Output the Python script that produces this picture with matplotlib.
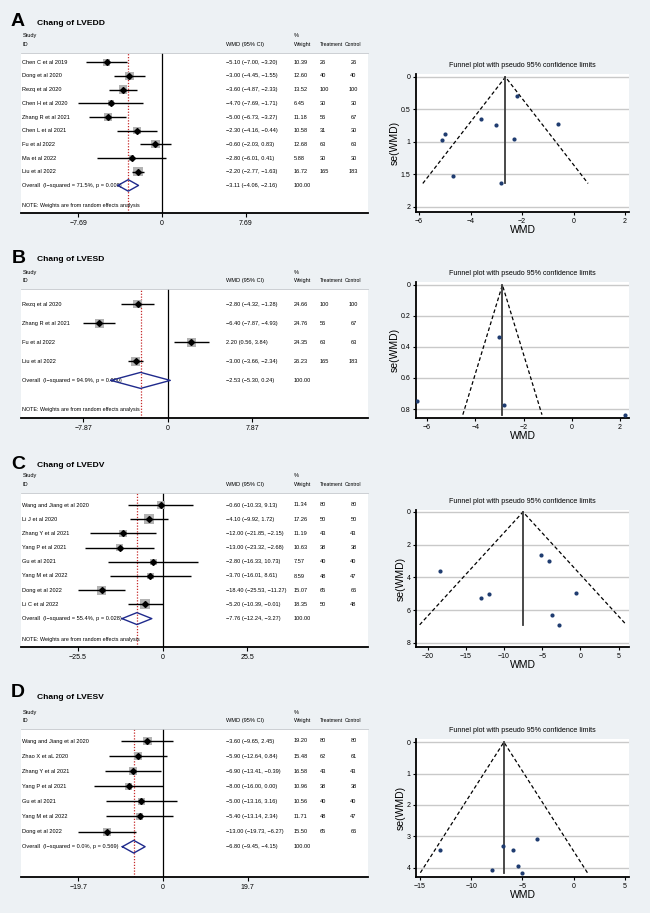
import numpy as np
import matplotlib
matplotlib.use("Agg")
import matplotlib.pyplot as plt
from matplotlib.transforms import blended_transform_factory

plt.rcParams['font.family'] = ['Liberation Sans', 'DejaVu Sans']

# ---------------- data ----------------
# A: LVEDD
studies_a = ["Chen C et al 2019", "Dong et al 2020", "Rezq et al 2020", "Chen H et al 2020",
             "Zhang R et al 2021", "Chen L et al 2021", "Fu et al 2022", "Ma et al 2022", "Liu et al 2022"]
wmd_a = [-5.10, -3.00, -3.60, -4.70, -5.00, -2.30, -0.60, -2.80, -2.20]
lo_a = [-7.00, -4.45, -4.87, -7.69, -6.73, -4.16, -2.03, -6.01, -2.77]
hi_a = [-3.20, -1.55, -2.33, -1.71, -3.27, -0.44, 0.83, 0.41, -1.63]
wt_a = [10.39, 12.60, 13.52, 6.45, 11.18, 10.58, 12.68, 5.88, 16.72]
nt_a = [26, 40, 100, 30, 56, 31, 63, 30, 165]
nc_a = [26, 40, 100, 30, 67, 30, 63, 30, 183]
ov_a = [-3.11, -4.06, -2.16]
het_a = ["71.5%", "0.000"]

# B: LVESD
studies_b = ["Rezq et al 2020", "Zhang R et al 2021", "Fu et al 2022", "Liu et al 2022"]
wmd_b = [-2.80, -6.40, 2.20, -3.00]
lo_b = [-4.32, -7.87, 0.56, -3.66]
hi_b = [-1.28, -4.93, 3.84, -2.34]
wt_b = [24.66, 24.76, 24.35, 26.23]
nt_b = [100, 56, 63, 165]
nc_b = [100, 67, 63, 183]
ov_b = [-2.53, -5.30, 0.24]
het_b = ["94.9%", "0.000"]

# C: LVEDV
studies_c = ["Wang and Jiang et al 2020", "Li J et al 2020", "Zhang Y et al 2021", "Yang P et al 2021",
             "Gu et al 2021", "Yang M et al 2022", "Dong et al 2022", "Li C et al 2022"]
wmd_c = [-0.60, -4.10, -12.00, -13.00, -2.80, -3.70, -18.40, -5.20]
lo_c = [-10.33, -9.92, -21.85, -23.32, -16.33, -16.01, -25.53, -10.39]
hi_c = [9.13, 1.72, -2.15, -2.68, 10.73, 8.61, -11.27, -0.01]
wt_c = [11.34, 17.26, 11.19, 10.63, 7.57, 8.59, 15.07, 18.35]
nt_c = [80, 50, 43, 38, 40, 48, 65, 50]
nc_c = [80, 50, 43, 38, 40, 47, 66, 48]
ov_c = [-7.76, -12.24, -3.27]
het_c = ["55.4%", "0.028"]

# D: LVESV
studies_d = ["Wang and Jiang et al 2020", "Zhao X et aL 2020", "Zhang Y et al 2021", "Yang P et al 2021",
             "Gu et al 2021", "Yang M et al 2022", "Dong et al 2022"]
wmd_d = [-3.60, -5.90, -6.90, -8.00, -5.00, -5.40, -13.00]
lo_d = [-9.65, -12.64, -13.41, -16.00, -13.16, -13.14, -19.73]
hi_d = [2.45, 0.84, -0.39, 0.00, 3.16, 2.34, -6.27]
wt_d = [19.20, 15.48, 16.58, 10.96, 10.56, 11.71, 15.50]
nt_d = [80, 62, 43, 38, 40, 48, 65]
nc_d = [80, 61, 43, 38, 40, 47, 66]
ov_d = [-6.80, -9.45, -4.15]
het_d = ["0.0%", "0.569"]

forest_ticks = [[-7.69, 0, 7.69], [-7.87, 0, 7.87], [-25.5, 0, 25.5], [-19.7, 0, 19.7]]
funnel_xticks = [[-6, -4, -2, 0, 2], [-6, -4, -2, 0, 2], [-20, -15, -10, -5, 0, 5], [-15, -10, -5, 0, 5]]
funnel_yticks = [[0, 0.5, 1, 1.5, 2], [0, 0.2, 0.4, 0.6, 0.8], [0, 2, 4, 6, 8], [0, 1, 2, 3, 4]]
funnel_ylabels = [["0", "0.5", "1", "1.5", "2"], ["0", "0.2", "0.4", "0.6", "0.8"],
                  ["0", "2", "4", "6", "8"], ["0", "1", "2", "3", "4"]]
letters = ["A", "B", "C", "D"]
titles = ["Chang of LVEDD", "Chang of LVESD", "Chang of LVEDV", "Chang of LVESV"]

# ---------------- layout (pixels) ----------------
W, H = 650, 913
BG = '#edf1f4'
MINUS = '\u2212'

fig = plt.figure(figsize=(W / 100, H / 100), dpi=100, facecolor=BG)


def box(l, t, r, b):
    return [l / W, 1 - b / H, (r - l) / W, (b - t) / H]


def num(v, d=2):
    return f"{v:.{d}f}".replace('-', MINUS)


def tick_txt(v):
    return f"{v:g}".replace('-', MINUS)


def forest(rect, xlim, ticks, r0, sp, studies, wmd, lo, hi, wt, nt, nc, ov, het, note, k):
    l, t, r, b = rect
    ax = fig.add_axes(box(l, t, r, b))
    ax.set_facecolor('white')
    ax.set_xlim(xlim)
    ax.set_ylim((b - r0) / sp, (t - r0) / sp)
    n = len(studies)
    rows = np.arange(n)
    side = k * np.sqrt(wt) * 0.72
    ax.scatter(wmd, rows, s=side ** 2, marker='s', color='#b3b3b3', linewidths=0, zorder=2)
    ax.hlines(rows, lo, hi, color='black', lw=1.0, zorder=3)
    ax.plot(wmd, rows, 'D', color='black', ms=3.0, zorder=4)
    ax.axvline(0, color='black', lw=0.9, zorder=1)
    ax.axvline(ov[0], color='#c62828', lw=0.9, ls=(0, (1, 1.3)), zorder=1)
    ax.plot([ov[1], ov[0], ov[2], ov[0], ov[1]], [n, n - 0.42, n, n + 0.42, n],
            color='#1f2a8c', lw=1.0, zorder=5)
    for s in ['left', 'right']:
        ax.spines[s].set_visible(False)
    ax.spines['top'].set_color('#c4c8cc')
    ax.spines['top'].set_linewidth(0.6)
    ax.spines['bottom'].set_linewidth(1.3)
    ax.set_yticks([])
    ax.set_xticks(ticks)
    ax.set_xticklabels([tick_txt(v) for v in ticks])
    ax.tick_params(axis='x', length=3, width=0.8, labelsize=5, pad=2)

    tr = blended_transform_factory(ax.transAxes, ax.transData)
    fx = lambda px: (px - l) / (r - l)
    fs = 4.1
    for i in range(n):
        ax.text(fx(22.5), i, studies[i], transform=tr, va='center', fontsize=fs)
        ax.text(fx(226), i, f"{num(wmd[i])} ({num(lo[i])}, {num(hi[i])})", transform=tr,
                va='center', fontsize=fs)
        ax.text(fx(294), i, num(wt[i]), transform=tr, va='center', fontsize=fs)
        ax.text(fx(320), i, str(nt[i]), transform=tr, va='center', fontsize=fs)
        ax.text(fx(353.5), i, str(nc[i]), transform=tr, va='center', ha='center', fontsize=fs)
    ax.text(fx(22.5), n, f"Overall  (I{MINUS}squared = {het[0]}, p = {het[1]})", transform=tr,
            va='center', fontsize=fs)
    ax.text(fx(226), n, f"{num(ov[0])} ({num(ov[1])}, {num(ov[2])})", transform=tr,
            va='center', fontsize=fs)
    ax.text(fx(294), n, "100.00", transform=tr, va='center', fontsize=fs)
    if note:
        ax.text(fx(22.5), n + 1.5, "NOTE: Weights are from random effects analysis", transform=tr,
                va='center', fontsize=fs * 0.95)

    # header
    y1, y2 = 1 - (t - 17) / H, 1 - (t - 8.5) / H
    fig.text(22.5 / W, y1, "Study", va='center', fontsize=fs)
    fig.text(22.5 / W, y2, "ID", va='center', fontsize=fs)
    fig.text(226 / W, y2, "WMD (95% CI)", va='center', fontsize=fs)
    fig.text(294 / W, y1, "%", va='center', fontsize=fs)
    fig.text(294 / W, y2, "Weight", va='center', fontsize=fs)
    fig.text(319.5 / W, y2, "Treatment", va='center', fontsize=3.7)
    fig.text(344.5 / W, y2, "Control", va='center', fontsize=3.7)
    return ax


def funnel(rect, xlim, ylim, xt, yt, ytl, wmd, lo, hi):
    ax = fig.add_axes(box(*rect))
    ax.set_facecolor('white')
    y = np.array(wmd)
    se = (np.array(hi) - np.array(lo)) / (2 * 1.96)
    w = 1 / se ** 2
    theta = np.sum(w * y) / np.sum(w)
    smax = se.max()
    ax.set_xlim(xlim)
    ax.set_ylim(ylim)
    ax.set_xticks(xt)
    ax.set_xticklabels([tick_txt(v) for v in xt])
    ax.set_yticks(yt)
    ax.set_yticklabels(ytl)
    ax.grid(axis='y', color='#c9c9c9', lw=1.0)
    ax.set_axisbelow(True)
    ax.plot([theta - 1.96 * smax, theta, theta + 1.96 * smax], [smax, 0, smax],
            color='black', lw=0.9, ls=(0, (3, 2)), zorder=3)
    ax.plot([theta, theta], [0, smax], color='#3c3c3c', lw=1.3, zorder=3)
    ax.scatter(y, se, s=9, color='#1f3c70', linewidths=0, zorder=5)
    for s in ['top', 'right']:
        ax.spines[s].set_visible(False)
    for s in ['left', 'bottom']:
        ax.spines[s].set_linewidth(1.3)
    ax.tick_params(length=2.5, width=0.8, labelsize=5, pad=1.5)
    ax.set_title("Funnel plot with pseudo 95% confidence limits", fontsize=5.1, pad=5)
    ax.set_xlabel("WMD", fontsize=7.5, labelpad=0.3)
    ax.set_ylabel("se(WMD)", fontsize=7.5, labelpad=0.5)
    return ax


panels = [
    dict(rect=(20.5, 52.7, 368, 213.3), xlim=(-13.03, 18.97), r0=62.3, sp=13.68, k=2.3, note=True,
         data=(studies_a, wmd_a, lo_a, hi_a, wt_a, nt_a, nc_a, ov_a, het_a),
         letter=(11, 26), title=(36.7, 25),
         frect=(416, 74, 629, 212), fxlim=(-6.12, 2.155), fylim=(2.077, -0.046)),
    dict(rect=(20.5, 289.3, 368, 417.7), xlim=(-13.73, 18.68), r0=304, sp=19.1, k=1.8, note=True,
         data=(studies_b, wmd_b, lo_b, hi_b, wt_b, nt_b, nc_b, ov_b, het_b),
         letter=(11.7, 263.3), title=(36.7, 261),
         frect=(416, 282, 629, 418), fxlim=(-6.456, 2.373), fylim=(0.858, -0.019)),
    dict(rect=(20.5, 492.7, 368, 647.3), xlim=(-42.8, 61.8), r0=505, sp=14.2, k=2.3, note=True,
         data=(studies_c, wmd_c, lo_c, hi_c, wt_c, nt_c, nc_c, ov_c, het_c),
         letter=(11.7, 469.3), title=(36.7, 466.5),
         frect=(416, 510, 629, 647), fxlim=(-21.53, 6.35), fylim=(8.26, -0.12)),
    dict(rect=(20.5, 729.3, 368, 877.3), xlim=(-33.14, 47.7), r0=741, sp=15.1, k=2.0, note=False,
         data=(studies_d, wmd_d, lo_d, hi_d, wt_d, nt_d, nc_d, ov_d, het_d),
         letter=(11, 696.7), title=(36.7, 699),
         frect=(416, 739, 629, 877), fxlim=(-15.39, 5.42), fylim=(4.3, -0.1)),
]

for i, pn in enumerate(panels):
    st, wm, lo, hi, wt, nt, nc, ov, het = pn['data']
    forest(pn['rect'], pn['xlim'], forest_ticks[i], pn['r0'], pn['sp'],
           st, wm, lo, hi, wt, nt, nc, ov, het, pn['note'], pn['k'])
    funnel(pn['frect'], pn['fxlim'], pn['fylim'], funnel_xticks[i], funnel_yticks[i],
           funnel_ylabels[i], wm, lo, hi)
    lx, ly = pn['letter']
    fig.text(lx / W, 1 - ly / H, letters[i], fontsize=14, fontweight='bold', va='baseline')
    tx, ty = pn['title']
    fig.text(tx / W, 1 - ty / H, titles[i], fontsize=6.1, fontweight='bold', va='baseline')

fig.savefig("out.png", dpi=100, facecolor=BG)
